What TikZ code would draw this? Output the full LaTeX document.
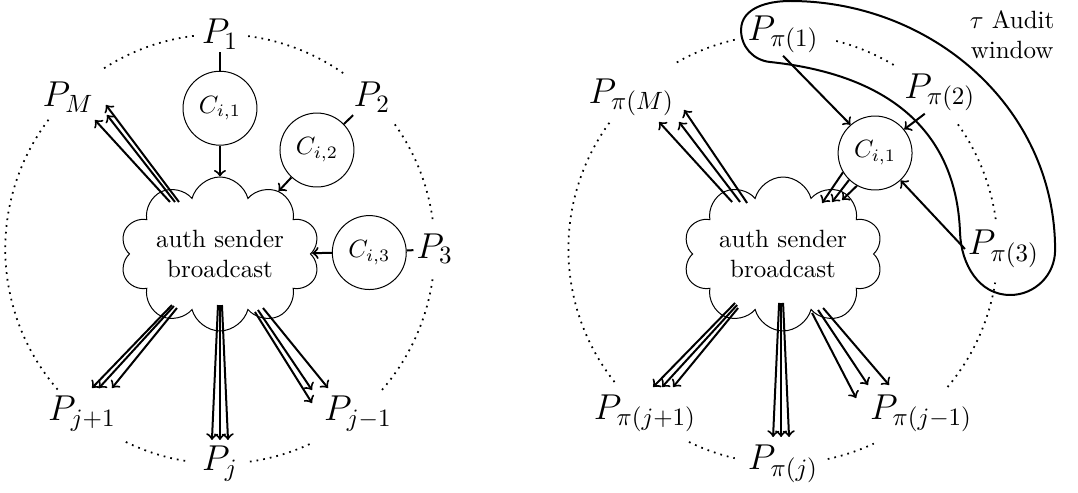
\documentclass[tikz,border=0pt]{standalone}
\usepackage{amsmath,amssymb}
\usepackage{tikz}
\usetikzlibrary{calc,shapes.symbols}

\tikzset{
  party/.style={font=\Large,inner sep=1pt},
  chk/.style={draw,circle,minimum size=1.04cm,inner sep=0pt},
  bcast/.style={draw,cloud,cloud puffs=10,aspect=1.55,minimum width=2.63cm,
    minimum height=1.72cm,align=center,inner sep=0pt},
  msg/.style={->,thick},
  ring/.style={line width=0.7pt,dash pattern=on 0.7pt off 2pt},
}
% three arrows from #1 to #2, offsets sx/sy/tx/ty
\newcommand{\fan}[3]{\foreach \sx/\sy/\tx/\ty in {#3}
  \draw[msg] ($(#1)+(\sx,\sy)$) -- ($(#2)+(\tx,\ty)$);}
\def\R{3.02}

\begin{document}
\begin{tikzpicture}[x=1cm,y=1cm]
\useasboundingbox (-3.094,-3.418) rectangle (12.068,3.502);

% left: plain order
\foreach \a/\b in {97/124,55/83,8/36,-41/-7,-82/-65,244/261,143/221}
  \draw[ring] (\a:\R) arc[start angle=\a,end angle=\b,radius=\R];
\node[bcast] (cloudL) at (0,-0.07) {auth sender\\broadcast};
\node[party] (P1) at (90:\R) {$P_1$};
\node[party] (P2) at (45:\R) {$P_2$};
\node[party] (P3) at (0:\R) {$P_3$};
\node[party] (PM) at (135:\R) {$P_M$};
\node[party] (Pjp) at (230:\R) {$P_{j+1}$};
\node[party] (Pj) at (270:\R) {$P_j$};
\node[party] (Pjm) at (310:\R) {$P_{j-1}$};
\node[chk] (C1) at (0,1.98) {$C_{i,1}$};
\node[chk] (C2) at (1.364,1.392) {$C_{i,2}$};
\node[chk] (C3) at (2.10,-0.05) {$C_{i,3}$};
\draw[thick] (P1) -- (C1);
\draw[thick] (P2) -- (C2);
\draw[thick] (C3) -- (P3);
\draw[msg] (C1) -- (cloudL);
\draw[msg] (C2) -- (cloudL);
\draw[msg] (C3) -- (cloudL);
\fan{cloudL}{PM}{-0.703/0.731/0.377/-0.321,-0.633/0.731/0.546/-0.250,-0.577/0.731/0.532/-0.110}
\fan{cloudL}{Pjp}{-0.675/-0.718/0.141/0.358,-0.647/-0.732/0.239/0.358,-0.605/-0.760/0.422/0.358}
\fan{cloudL}{Pj}{-0.028/-0.718/-0.113/0.334,0/-0.718/0/0.334,0.028/-0.718/0.113/0.334}
\fan{cloudL}{Pjm}{0.492/-0.816/-0.647/0.147,0.534/-0.788/-0.647/0.330,0.605/-0.760/-0.422/0.358}

% right: permuted order with audit window
\begin{scope}[xshift=7.92cm]
\foreach \a/\b in {103/121,59/77,8/36,-40/-9,-78/-65,244/257,144/219}
  \draw[ring] (\a:\R) arc[start angle=\a,end angle=\b,radius=\R];
\node[bcast] (cloudR) at (0,-0.07) {auth sender\\broadcast};
\node[party] (Q1) at (90:\R) {$P_{\pi(1)}$};
\node[party] (Q2) at (45:3.12) {$P_{\pi(2)}$};
\node[party] (Q3) at (0:3.10) {$P_{\pi(3)}$};
\node[party] (QM) at (135:\R) {$P_{\pi(M)}$};
\node[party] (Qjp) at (230:\R) {$P_{\pi(j+1)}$};
\node[party] (Qj) at (270:\R) {$P_{\pi(j)}$};
\node[party] (Qjm) at (310:\R) {$P_{\pi(j-1)}$};
\node[chk] (Cr) at (1.294,1.350) {$C_{i,1}$};
\node[align=center] (tau) at (3.221,3.010) {$\tau$ Audit\\window};
% audit window outline
\coordinate (w1) at (-0.183,2.630);
\coordinate (w2) at (2.489,0.225);
\coordinate (w3) at (3.193,-0.647);
\coordinate (w4) at (3.826,-0.014);
\coordinate (w5) at (0.098,3.488);
\coordinate (w6) at (-0.591,3.080);
\draw[thick] (w1) to[out=-6,in=92,looseness=1.1] (w2) to[out=-88,in=180] (w3)
  to[out=0,in=-90] (w4) to[out=90,in=0] (w5) to[out=180,in=90] (w6)
  to[out=-90,in=174] (w1);
\draw[msg] (Q1.south) -- (Cr.131);
\draw[msg] (Q2.235) -- (Cr.39);
\draw[msg] (Q3.west) -- (Cr.313);
\foreach \a/\tx/\ty in {211/0.549/0.717,226/0.689/0.731,241/0.830/0.759}
  \draw[msg] (Cr.\a) -- ($(cloudR)+(\tx,\ty)$);
\fan{cloudR}{QM}{-0.717/0.731/0.391/-0.349,-0.605/0.731/0.672/-0.349,-0.506/0.717/0.743/-0.180}
\fan{cloudR}{Qjp}{-0.675/-0.689/0.113/0.372,-0.647/-0.718/0.239/0.372,-0.633/-0.760/0.394/0.372}
\fan{cloudR}{Qj}{-0.056/-0.689/-0.141/0.376,-0.028/-0.689/-0.028/0.376,0/-0.689/0.084/0.376}
\fan{cloudR}{Qjm}{0.408/-0.830/-0.914/0.217,0.492/-0.788/-0.746/0.400,0.563/-0.760/-0.450/0.400}
\end{scope}
\end{tikzpicture}
\end{document}
